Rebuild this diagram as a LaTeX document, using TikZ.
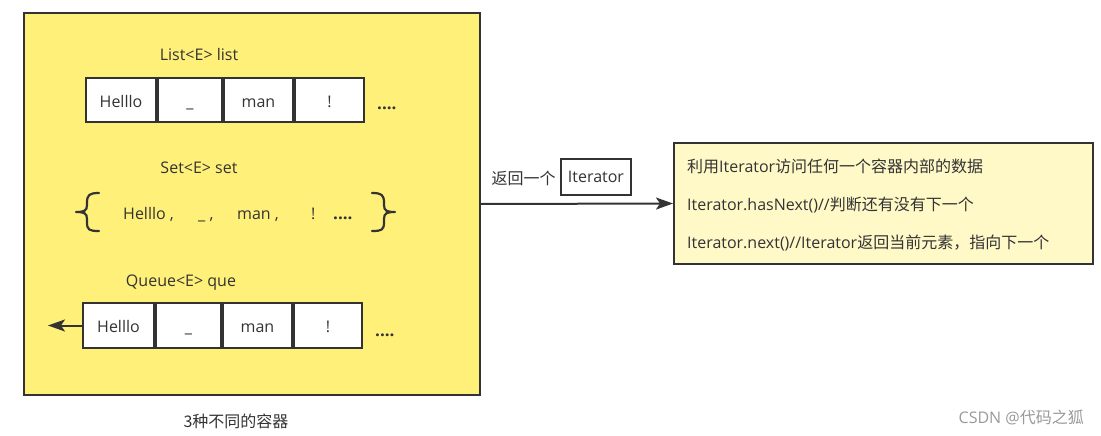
\documentclass[tikz,border=0pt]{standalone}
\usepackage{fontspec}
\setmainfont{Open Sans}
\newfontfamily\cjk{Noto Sans CJK SC}
\usetikzlibrary{positioning,arrows.meta}
\definecolor{boxline}{HTML}{333333}
\definecolor{contyellow}{HTML}{FFF07A}
\definecolor{infoyellow}{HTML}{FFF9C8}

\begin{document}
\begin{tikzpicture}[x=1pt,y=-1pt,>={Stealth[length=17pt,width=12pt,inset=4pt]},
  every node/.style={font=\fontsize{16}{19}\selectfont,text=boxline},
  cell/.style={draw=boxline,line width=2pt,fill=white,minimum height=44pt,
    text height=16pt,text depth=2pt,inner sep=0pt},
  dots/.style={anchor=base west,inner sep=0pt,font=\fontsize{17}{19}\selectfont\bfseries},
  conn/.style={->,draw=boxline,line width=2pt},
  brace/.style={draw=boxline,line width=2.2pt,line cap=round,line join=round}]
\useasboundingbox (0,0) rectangle (1101,436);

% the three containers
\node[draw=boxline,line width=2pt,fill=contyellow,minimum width=456pt,minimum height=382pt] (cont) at (252,204) {};

% List
\node[anchor=base] (listlbl) at (199,61) {List<E> list};
\node[cell,minimum width=70pt] (l1) at (121,100) {Helllo};
\node[cell,minimum width=64pt,right=0pt of l1] (l2) {\_};
\node[cell,minimum width=69pt,right=0pt of l2] (l3) {man};
\node[cell,minimum width=69pt,right=0pt of l3] (l4) {!};
\node[dots] (ldots) at (377,110) {....};

% Set
\node[anchor=base] (setlbl) at (199,173) {Set<E> set};
\draw[brace] (99,193) .. controls (89,193) and (87,195) .. (87,203) -- (87,205)
  .. controls (87,211) and (84,212) .. (76,212)
  .. controls (84,212) and (87,213) .. (87,219) -- (87,222)
  .. controls (87,230) and (89,231) .. (99,231);
\draw[brace] (372,193) .. controls (382,193) and (384,195) .. (384,203) -- (384,205)
  .. controls (384,211) and (387,212) .. (395,212)
  .. controls (387,212) and (384,213) .. (384,219) -- (384,222)
  .. controls (384,230) and (382,231) .. (372,231);
\node[anchor=base west,inner sep=0pt] (s1) at (123,219) {Helllo ,};
\node[anchor=base west,inner sep=0pt] (s2) at (198,219) {\_ ,};
\node[anchor=base west,inner sep=0pt] (s3) at (237,219) {man ,};
\node[anchor=base west,inner sep=0pt] (s4) at (311,219) {!};
\node[dots] (s5) at (333,219) {....};

% Queue
\node[anchor=base] (quelbl) at (181,286) {Queue<E> que};
\node[cell,minimum width=71pt,minimum height=45pt] (q1) at (118.5,325.5) {Helllo};
\node[cell,minimum width=65pt,minimum height=45pt,right=0pt of q1] (q2) {\_};
\node[cell,minimum width=69pt,minimum height=45pt,right=0pt of q2] (q3) {man};
\node[cell,minimum width=68pt,minimum height=45pt,right=0pt of q3] (q4) {!};
\node[dots] (qdots) at (375,336) {....};
\coordinate (qout) at (48,325.5);
\draw[conn] (q1.west) -- (qout);

\node (cap) at (236,421) {\cjk 3种不同的容器};

% iterator
\node[draw=boxline,line width=2pt,fill=infoyellow,minimum width=419pt,minimum height=121pt] (info) at (883.5,203.5) {};
\draw[conn] (cont.east) -- (info.west);
\node (ret) at (523.5,178) {\cjk 返回一个};
\node[draw=boxline,line width=2pt,minimum width=70pt,minimum height=36pt,inner sep=0pt] (itbox) at (596,177) {Iterator};

\node[anchor=west,inner sep=0pt] (inf1) at (687,166) {{\cjk 利用}Iterator{\cjk 访问任何一个容器内部的数据}};
\node[anchor=west,inner sep=0pt] (inf2) at (687,205) {Iterator.hasNext()//{\cjk 判断还有没有下一个}};
\node[anchor=west,inner sep=0pt] (inf3) at (687,243) {Iterator.next()//Iterator{\cjk 返回当前元素，指向下一个}};

\node[anchor=base east,inner sep=0pt,text=black!40] (mark) at (1084,423) {CSDN @{\cjk 代码之狐}};
\end{tikzpicture}
\end{document}
